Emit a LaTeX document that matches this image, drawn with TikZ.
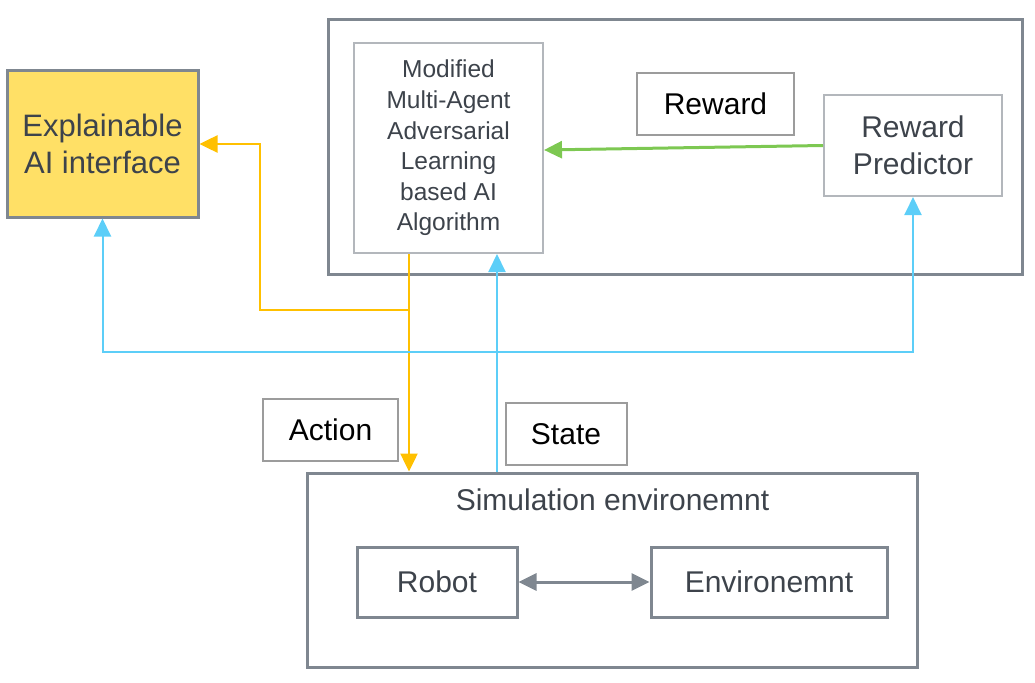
\documentclass[tikz,border=0pt]{standalone}
\usepackage{fontspec}
\setmainfont{Liberation Sans}
\usetikzlibrary{arrows.meta}
\definecolor{boxgray}{HTML}{7F8790}
\definecolor{lightgray}{HTML}{B3B7BC}
\definecolor{lblgray}{HTML}{9C9C9C}
\definecolor{txtgray}{HTML}{3D434B}
\definecolor{xyellow}{HTML}{FFE066}
\definecolor{corange}{HTML}{FFC000}
\definecolor{cblue}{HTML}{5CCEF8}
\definecolor{cgreen}{HTML}{7DC852}
\tikzset{
  bigbox/.style={draw=boxgray,line width=3pt,rectangle,inner sep=0pt},
  innerbox/.style={draw=lightgray,line width=2pt,rectangle,inner sep=0pt,text=txtgray,align=center},
  lblbox/.style={draw=lblgray,line width=2pt,rectangle,inner sep=0pt,text=black,font=\fontsize{30}{36}\selectfont},
  tip/.style={-{Triangle[length=18pt,width=17pt]}},
  both/.style={{Triangle[length=18pt,width=17pt]}-{Triangle[length=18pt,width=17pt]}},
  oline/.style={draw=corange,line width=2.5pt},
  bline/.style={draw=cblue,line width=2pt},
}
\begin{document}
\begin{tikzpicture}[x=1pt,y=-1pt]
\useasboundingbox (0,0) rectangle (1035,682);
% top frame
\node[bigbox,minimum width=694pt,minimum height=254pt] (top) at (675,147) {};
% explainable
\node[bigbox,fill=xyellow,minimum width=191pt,minimum height=146pt,text=txtgray,align=center,
  font=\fontsize{31}{37}\selectfont] (expl) at (102.5,144) {Explainable\\AI interface};
% algorithm
\node[innerbox,minimum width=189pt,minimum height=210pt,font=\fontsize{24.5}{30.6}\selectfont] (algo) at (448.5,148)
  {Modified\\Multi-Agent\\Adversarial\\Learning\\based AI\\Algorithm};
% reward label
\node[lblbox,minimum width=157pt,minimum height=62pt] (rlbl) at (715.5,104) {Reward};
% reward predictor
\node[innerbox,minimum width=178pt,minimum height=101pt,font=\fontsize{30}{37}\selectfont] (pred) at (913,145.5)
  {Reward\\Predictor};
% labels
\node[lblbox,minimum width=135pt,minimum height=62pt] (action) at (330.5,430) {Action};
\node[lblbox,minimum width=121pt,minimum height=62pt] (state) at (566,434) {State};
% simulation
\node[bigbox,minimum width=610pt,minimum height=194pt] (sim) at (612.5,570) {};
\node[text=txtgray,font=\fontsize{30}{36}\selectfont] (simt) at (612.5,500) {Simulation environemnt};
\node[bigbox,minimum width=160pt,minimum height=70pt,text=txtgray,font=\fontsize{30}{36}\selectfont] (robot) at (437,582) {Robot};
\node[bigbox,minimum width=236pt,minimum height=70pt,text=txtgray,font=\fontsize{30}{36}\selectfont] (env) at (769,582) {Environemnt};
% helper coordinates
\coordinate (ox) at (409,0);
\coordinate (sx) at (497,0);
\coordinate (oj) at (409,310);
\coordinate (ol) at (260,310);
\coordinate (bc) at (102.5,352);
% green reward arrow
\draw[draw=cgreen,line width=3pt,tip] (pred.west) -- ([yshift=-2pt]algo.east);
% orange action
\draw[oline,tip] (algo.south -| ox) -- (sim.north -| ox);
\draw[oline,tip] (oj) -- (ol) |- (expl.east);
% blue state
\draw[bline,tip] (sim.north -| sx) -- (algo.south -| sx);
% blue loop
\draw[bline,both] (expl.south) -- (bc) -| (pred.south);
% robot env
\draw[draw=boxgray,line width=3pt,both] (robot.east) -- (env.west);
\end{tikzpicture}
\end{document}
